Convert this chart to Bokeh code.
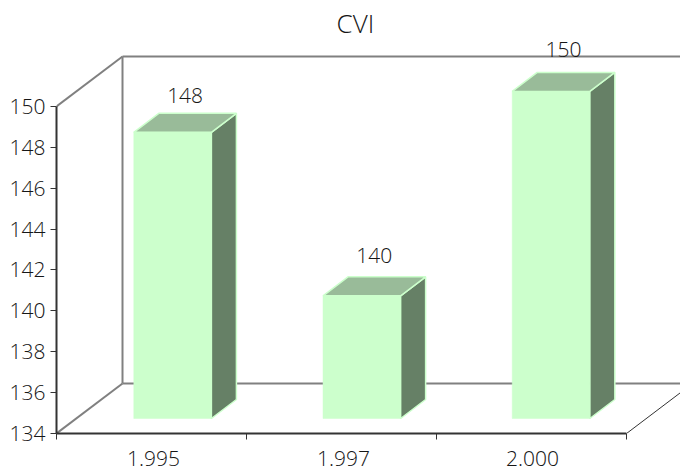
from bokeh.plotting import figure
from bokeh.embed import file_html
from bokeh.resources import INLINE
from bokeh.core.properties import value
from bokeh.models import Range1d, FixedTicker, ColumnDataSource

title = "CVI"
categories = ["1.995", "1.997", "2.000"]
values = [148, 140, 150]
y_ticks = [134, 136, 138, 140, 142, 144, 146, 148, 150]
FONT = "Open Sans Light"
INK = "#161616"

# projection depth, in data units (one category = 190 px, one y unit = 20.44 px)
wall_dx, wall_dy = 66 / 190, 50 / 20.44
off_dy = 15 / 20.44
bar_dx, bar_dy = 25 / 190, 19 / 20.44
bar_w = 77.6 / 190
bar_first = 77.3 / 190
bar_pitch = 189.2 / 190
label_raise = [18, 21, 23]
y0 = y_ticks[0]
y1 = y_ticks[-1]
x_end = 3.284

p = figure(width=680, height=470, output_backend="svg", toolbar_location=None,
           x_range=Range1d(0, x_end), y_range=Range1d(y0, y0 + 393 / 20.44),
           min_border_left=56, min_border_right=0, min_border_top=40, min_border_bottom=37,
           outline_line_color=None, margin=(0, 0, 0, 0))
p.grid.visible = False

p.title.text = title
p.title.align = "left"
p.title.offset = 280
p.title.text_font = FONT
p.title.text_font_style = "normal"
p.title.text_font_size = "26px"
p.title.text_color = INK
p.title.standoff = 0

ax = p.yaxis[0]
ax.ticker = FixedTicker(ticks=y_ticks)
ax.bounds = (y0, y1)
ax.axis_line_color = "#333333"
ax.axis_line_width = 2
ax.major_tick_line_color = "#333333"
ax.major_tick_out = 6
ax.major_tick_in = 0
ax.minor_tick_out = 0
ax.minor_tick_in = 0
ax.major_label_text_font = FONT
ax.major_label_text_font_size = "21px"
ax.major_label_text_color = INK
ax.major_label_standoff = 5

bx = p.xaxis[0]
bx.ticker = FixedTicker(ticks=[0.51, 1.51, 2.505], minor_ticks=[0, 1, 2, 3])
bx.major_label_overrides = dict(zip([0.51, 1.51, 2.505], categories))
bx.bounds = (0, 3)
bx.axis_line_color = "#333333"
bx.axis_line_width = 2
bx.major_tick_out = 0
bx.major_tick_in = 0
bx.minor_tick_out = 6
bx.minor_tick_in = 0
bx.minor_tick_line_color = "#333333"
bx.major_label_text_font = FONT
bx.major_label_text_font_size = "21px"
bx.major_label_text_color = INK
bx.major_label_standoff = 11
bx.major_label_text_line_height = 0.9

# walls
GREY = "#808080"
p.line([0, wall_dx], [y1, y1 + wall_dy], line_color=GREY, line_width=2)
p.line([0, wall_dx], [y0, y0 + wall_dy], line_color=GREY, line_width=2)
p.line([wall_dx, wall_dx], [y0 + wall_dy, y1 + wall_dy], line_color=GREY, line_width=2)
p.line([wall_dx, x_end], [y1 + wall_dy, y1 + wall_dy], line_color=GREY, line_width=2)
p.line([wall_dx, x_end], [y0 + wall_dy, y0 + wall_dy], line_color=GREY, line_width=2)
p.line([3, 3 + wall_dx], [y0, y0 + wall_dy], line_color="#333333", line_width=1)

# bars
front_x, front_y, top_x, top_y, side_x, side_y = [], [], [], [], [], []
lab_x, lab_y = [], []
for i, v in enumerate(values):
    l = bar_first + i * bar_pitch
    r = l + bar_w
    b = y0 + off_dy
    t = v + off_dy
    front_x.append([l, r, r, l]); front_y.append([b, b, t, t])
    top_x.append([l, r, r + bar_dx, l + bar_dx]); top_y.append([t, t, t + bar_dy, t + bar_dy])
    side_x.append([r, r + bar_dx, r + bar_dx, r]); side_y.append([b, b + bar_dy, t + bar_dy, t])
    lab_x.append((l + r + bar_dx) / 2)
    lab_y.append(t + bar_dy + label_raise[i] / 20.44)

p.patches(side_x, side_y, fill_color="#668066", line_color="#CCFFCC", line_width=1.5)
p.patches(top_x, top_y, fill_color="#99BB99", line_color="#CCFFCC", line_width=1.5)
p.patches(front_x, front_y, fill_color="#CCFFCC", line_color="#CCFFCC", line_width=0.5)

src = ColumnDataSource(dict(x=lab_x, y=lab_y, t=[str(v) for v in values]))
p.text("x", "y", text="t", source=src, text_align="center", text_baseline="alphabetic",
       text_font=value(FONT), text_font_size="21px", text_color=INK)

open("out.html", "w").write(file_html(p, INLINE))
